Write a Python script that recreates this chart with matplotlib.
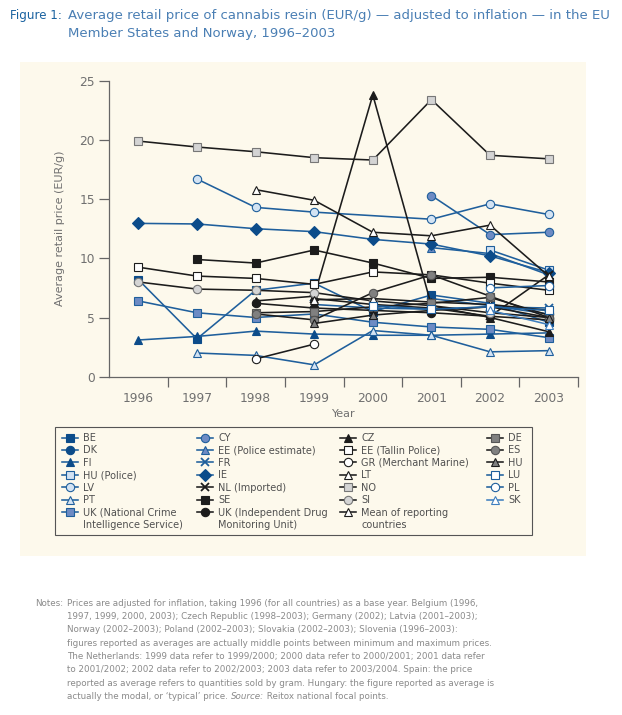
import matplotlib
matplotlib.use("Agg")
import matplotlib.pyplot as plt
from matplotlib.lines import Line2D
from matplotlib.patches import Rectangle
import numpy as np

N = None
years = ["1996", "1997", "1998", "1999", "2000", "2001", "2002", "2003"]

# prices (EUR/g)
be = [8.2, 3.2, 7.3, 7.9, 5.5, 6.9, 6.2, 4.6]
dk = [N, N, N, N, N, 6.6, 6.0, 5.3]
fi = [3.1, 3.4, 3.85, 3.6, 3.5, 3.5, 3.6, 3.7]
hu_police = [N, N, N, N, N, N, 10.7, 9.0]
lv = [N, 16.7, 14.3, 13.9, N, 13.3, 14.6, 13.7]
pt = [N, 2.0, 1.8, 1.0, 3.9, 3.5, 2.1, 2.2]
uk_ncis = [6.4, 5.4, 5.0, 5.3, 4.6, 4.2, 4.0, 3.3]
cy = [N, N, N, N, N, 15.3, 12.0, 12.2]
ee_police = [N, N, N, N, N, 10.9, 10.4, 8.6]
fr = [N, N, N, 6.1, 5.8, 5.7, 5.9, 5.8]
ie = [12.95, 12.9, 12.5, 12.25, 11.6, 11.2, 10.2, 8.8]
nl = [N, N, N, 6.6, 6.1, 5.8, 5.1, 8.6]
se = [N, 9.9, 9.6, 10.7, 9.6, 8.3, 8.4, 8.0]
uk_idmu = [N, N, 6.2, 5.8, 5.6, 5.4, 5.1, 4.8]
cz = [N, N, 6.4, 6.8, 23.8, 6.0, 5.0, 3.8]
ee_tallin = [9.25, 8.5, 8.3, 7.8, 8.85, 8.6, 7.9, 7.3]
gr = [N, N, 1.5, 2.75, N, N, N, N]
lt = [N, N, 15.8, 14.9, 12.2, 11.9, 12.8, 8.5]
no = [19.9, 19.4, 19.0, 18.5, 18.3, 23.4, 18.7, 18.4]
si = [8.0, 7.4, 7.3, 7.1, 6.4, 6.0, 5.4, 5.0]
mean = [N, N, N, 6.5, 6.6, 6.3, 6.1, 5.6]
de = [N, N, 5.4, 5.5, 5.9, 6.2, 6.7, 5.2]
es = [N, N, 5.3, 4.8, 7.1, 8.6, 6.8, 5.0]
hu = [N, N, N, 4.5, 5.2, 5.6, 5.9, 5.0]
lu = [N, N, N, N, 6.0, 5.7, 5.9, 5.6]
pl = [N, N, N, N, N, N, 7.5, 7.7]
sk = [N, N, N, N, N, N, 5.6, 4.4]

# colours
DB = "#0c4c8a"
BL = "#1f5f9c"
MB = "#6d8bc4"
LB = "#d3e3f3"
K = "#1c1c1c"
LG = "#d4d4d4"
DG = "#808080"
W = "white"

# (label, values, line colour, marker, face, edge) in legend order
columns = [
    [("BE", be, BL, "s", DB, DB),
     ("DK", dk, BL, "o", DB, DB),
     ("FI", fi, BL, "^", DB, DB),
     ("HU (Police)", hu_police, BL, "s", LB, BL),
     ("LV", lv, BL, "o", LB, BL),
     ("PT", pt, BL, "^", LB, BL),
     ("UK (National Crime\nIntelligence Service)", uk_ncis, BL, "s", MB, BL)],
    [("CY", cy, BL, "o", MB, BL),
     ("EE (Police estimate)", ee_police, BL, "^", MB, BL),
     ("FR", fr, BL, "x", BL, BL),
     ("IE", ie, BL, "D", DB, DB),
     ("NL (Imported)", nl, K, "x", K, K),
     ("SE", se, K, "s", K, K),
     ("UK (Independent Drug\nMonitoring Unit)", uk_idmu, K, "o", K, K)],
    [("CZ", cz, K, "^", K, K),
     ("EE (Tallin Police)", ee_tallin, K, "s", W, K),
     ("GR (Merchant Marine)", gr, K, "o", W, K),
     ("LT", lt, K, "^", W, K),
     ("NO", no, K, "s", LG, "#777777"),
     ("SI", si, K, "o", LG, "#777777"),
     ("Mean of reporting\ncountries", mean, K, "^", W, K)],
    [("DE", de, K, "s", DG, "#555555"),
     ("ES", es, K, "o", DG, "#555555"),
     ("HU", hu, K, "^", DG, K),
     ("LU", lu, BL, "s", W, BL),
     ("PL", pl, BL, "o", W, BL),
     ("SK", sk, "#3f7fbf", "^", W, "#3f7fbf")],
]

plt.rcParams["font.family"] = ["DejaVu Sans"]

W_PX, H_PX = 622, 715
fig = plt.figure(figsize=(W_PX / 100, H_PX / 100), dpi=100)


def fx(x):
    return x / W_PX


def fy(y):
    return 1 - y / H_PX


# cream panel behind chart and legend
fig.patches.append(Rectangle((fx(20), fy(556)), fx(586) - fx(20), fy(62) - fy(556),
                             transform=fig.transFigure, facecolor="#fdf9ec",
                             edgecolor="none", zorder=-5))

left, right, top, bottom = 109, 578, 80.7, 376.7
ax = fig.add_axes([fx(left), fy(bottom), fx(right) - fx(left), fy(top) - fy(bottom)])
ax.set_facecolor("none")
ax.set_zorder(2)


def style(lc, mk, fc, ec):
    return dict(color=lc, lw=1.15, marker=mk, markersize=6.4 if mk == "D" else 6.0,
                markerfacecolor=fc, markeredgecolor=ec,
                markeredgewidth=1.3 if mk == "x" else 0.8)


xs = np.arange(len(years))
for col in columns:
    for label, vals, lc, mk, fc, ec in col:
        pts = [(x, v) for x, v in zip(xs, vals) if v is not None]
        px_, py_ = zip(*pts)
        ax.plot(px_, py_, clip_on=False, zorder=3, **style(lc, mk, fc, ec))

ax.set_xlim(-0.5, 7.5)
ax.set_ylim(0, 25)
for s in ["top", "right"]:
    ax.spines[s].set_visible(False)
for s in ["left", "bottom"]:
    ax.spines[s].set_color("#666666")
    ax.spines[s].set_linewidth(0.9)

ax.set_yticks([0, 5, 10, 15, 20, 25])
ax.tick_params(axis="y", direction="out", length=7, width=0.9, color="#666666",
               labelsize=8.8, labelcolor="#707070", pad=3)
ax.set_xticks(np.arange(0.5, 7.6, 1))
ax.set_xticklabels([])
ax.set_xticks(xs, minor=True)
ax.set_xticklabels(years, minor=True)
ax.tick_params(axis="x", which="major", direction="out", length=7, width=0.9,
               color="#666666")
ax.tick_params(axis="x", which="minor", length=0, pad=11, labelsize=8.8,
               labelcolor="#707070")

ax.set_xlabel("Year", fontsize=8, color="#707070")
ax.xaxis.set_label_coords(0.5, -(409 - bottom) / (bottom - top))
ax.set_ylabel("Average retail price (EUR/g)", fontsize=8, color="#707070")
ax.yaxis.set_label_coords((65 - left) / (right - left), 0.5)

# legend: one block per column, single frame round them
fig.patches.append(Rectangle((fx(55), fy(535)), fx(532) - fx(55), fy(427) - fy(535),
                             transform=fig.transFigure, facecolor="none",
                             edgecolor="#555555", lw=0.8, zorder=1))
col_x = [62, 197, 340, 487]
legends = []
for cx, col in zip(col_x, columns):
    handles = [Line2D([], [], **style(lc, mk, fc, ec)) for _, _, lc, mk, fc, ec in col]
    labels = [c[0].split("\n")[0] for c in col]
    lg = fig.legend(handles, labels, loc="upper left",
                    bbox_to_anchor=(fx(cx), fy(433)), bbox_transform=fig.transFigure,
                    frameon=False, fontsize=7, labelcolor="#505050",
                    handlelength=1.6, handletextpad=0.6, labelspacing=0.25,
                    borderaxespad=0, borderpad=0)
    legends.append((lg, col))

fig.canvas.draw()
r = fig.canvas.get_renderer()
# second lines of the two-line legend labels
for lg, col in legends:
    texts = lg.get_texts()
    for t, c in zip(texts, col):
        parts = c[0].split("\n")
        if len(parts) > 1:
            bb = t.get_window_extent(r)
            fig.text(bb.x0 / W_PX, (bb.y0 - 12.4 + (bb.y1 - bb.y0) / 2) / H_PX, parts[1],
                     fontsize=7, color="#505050", va="center", ha="left")

# title
fig.text(fx(10), fy(15), "Figure 1:", fontsize=8.6, color="#1a62a0",
         va="center", ha="left")
fig.text(fx(68), fy(15), "Average retail price of cannabis resin (EUR/g) \u2014 adjusted to "
         "inflation \u2014 in the EU", fontsize=9.5, color="#4a7fb4", va="center", ha="left")
fig.text(fx(68), fy(34), "Member States and Norway, 1996\u20132003", fontsize=9.5,
         color="#4a7fb4", va="center", ha="left")

# notes
notes = [
    "Prices are adjusted for inflation, taking 1996 (for all countries) as a base year. Belgium (1996,",
    "1997, 1999, 2000, 2003); Czech Republic (1998\u20132003); Germany (2002); Latvia (2001\u20132003);",
    "Norway (2002\u20132003); Poland (2002\u20132003); Slovakia (2002\u20132003); Slovenia (1996\u20132003):",
    "figures reported as averages are actually middle points between minimum and maximum prices.",
    "The Netherlands: 1999 data refer to 1999/2000; 2000 data refer to 2000/2001; 2001 data refer",
    "to 2001/2002; 2002 data refer to 2002/2003; 2003 data refer to 2003/2004. Spain: the price",
    "reported as average refers to quantities sold by gram. Hungary: the figure reported as average is",
]
ncol = "#8a8a8a"
nfs = 6.3
fig.text(fx(35), fy(603), "Notes:", fontsize=nfs, color=ncol, va="center", ha="left")
for i, line in enumerate(notes):
    fig.text(fx(67), fy(603 + 13.4 * i), line, fontsize=nfs, color=ncol,
             va="center", ha="left")
ylast = fy(603 + 13.4 * 7)
t1 = fig.text(fx(67), ylast, "actually the modal, or \u2018typical\u2019 price. ", fontsize=nfs,
              color=ncol, va="center", ha="left")
bb = t1.get_window_extent(r)
t2 = fig.text(bb.x1 / W_PX, ylast, "Source:", fontsize=nfs, color=ncol,
              style="italic", va="center", ha="left")
bb2 = t2.get_window_extent(r)
fig.text(bb2.x1 / W_PX, ylast, " Reitox national focal points.", fontsize=nfs,
         color=ncol, va="center", ha="left")

fig.savefig("out.png", dpi=100, facecolor="white")
